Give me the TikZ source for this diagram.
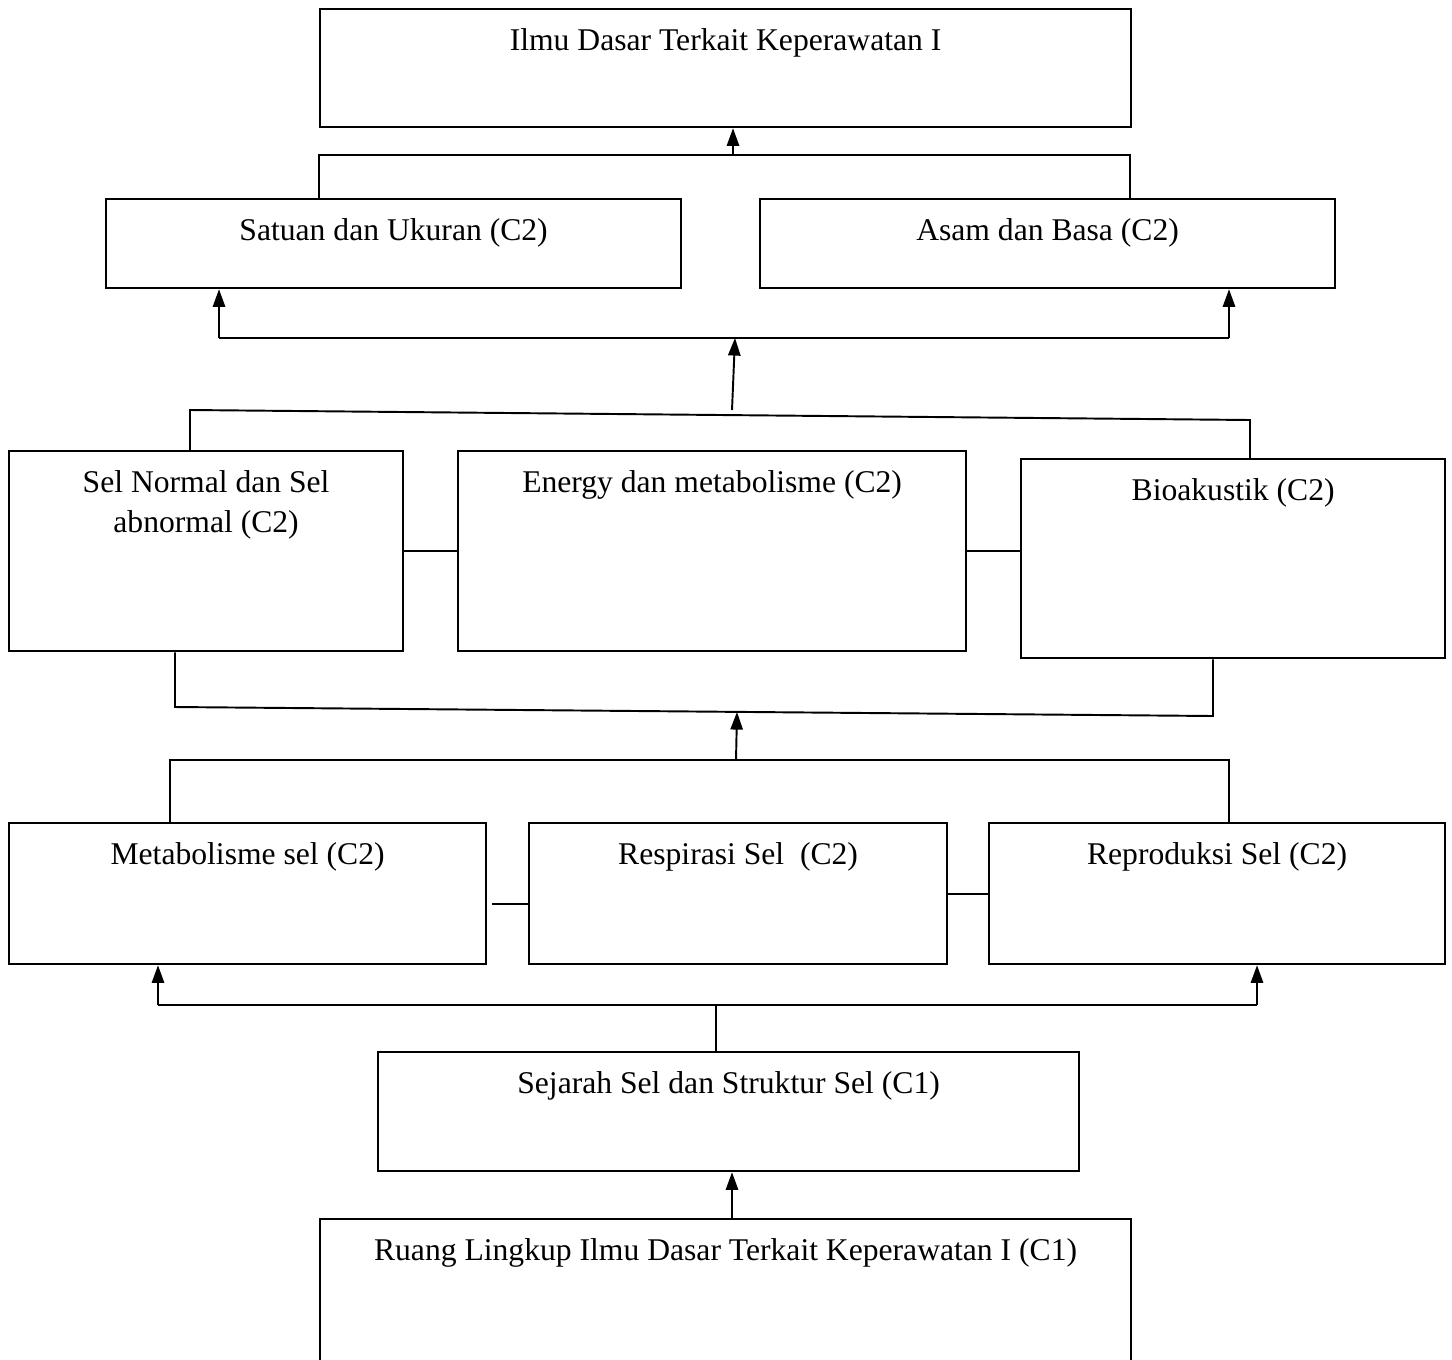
\documentclass[tikz,border=0pt]{standalone}
\usepackage{fontspec}
\setmainfont{Liberation Serif}
\usepackage{tikz}
\usetikzlibrary{arrows.meta}
\usetikzlibrary{calc}
\usetikzlibrary{positioning}

\begin{document}
\begin{tikzpicture}[x=0.02cm, y=-0.02cm]
\tikzstyle{box}=[draw, rectangle, anchor=north west, line width=1.3pt, inner sep=0pt]
\tikzstyle{lbl}=[anchor=north, inner sep=0pt, yshift=-0.40cm, align=center, font=\fontsize{18}{22.7}\selectfont]
\tikzset{arw/.style={-{Triangle[length=10pt, width=7pt]}}}
\useasboundingbox (0,0) rectangle (1452,1359);
% boxes
\node[box, minimum width=16.22cm, minimum height=2.36cm, label={[lbl]north:Ilmu Dasar Terkait Keperawatan I}] (top) at (319,8) {};
\node[box, minimum width=11.5cm, minimum height=1.78cm, label={[lbl]north:Satuan dan Ukuran (C2)}] (satuan) at (105,198) {};
\node[box, minimum width=11.5cm, minimum height=1.78cm, label={[lbl]north:Asam dan Basa (C2)}] (asam) at (759,198) {};
\node[box, minimum width=7.88cm, minimum height=4cm, label={[lbl]north:Sel Normal dan Sel\\abnormal (C2)}] (selnormal) at (8,450) {};
\node[box, minimum width=10.16cm, minimum height=4cm, label={[lbl]north:Energy dan metabolisme (C2)}] (energy) at (457,450) {};
\node[box, minimum width=8.48cm, minimum height=3.98cm, label={[lbl]north:Bioakustik (C2)}] (bio) at (1020,458) {};
\node[box, minimum width=9.54cm, minimum height=2.82cm, label={[lbl]north:Metabolisme sel (C2)}] (metab) at (8,822) {};
\node[box, minimum width=8.36cm, minimum height=2.82cm, label={[lbl]north:Respirasi Sel~~(C2)}] (resp) at (528,822) {};
\node[box, minimum width=9.12cm, minimum height=2.82cm, label={[lbl]north:Reproduksi Sel (C2)}] (repro) at (988,822) {};
\node[box, minimum width=14.02cm, minimum height=2.38cm, label={[lbl]north:Sejarah Sel dan Struktur Sel (C1)}] (sejarah) at (377,1051) {};
\node[box, minimum width=16.22cm, minimum height=3cm, label={[lbl]north:Ruang Lingkup Ilmu Dasar Terkait Keperawatan I (C1)}] (ruang) at (319,1218) {};
% junction points
\coordinate (t0) at (319,155); \coordinate (t1) at (733,155); \coordinate (t2) at (1130,155);
\coordinate (s0) at (219,338); \coordinate (s1) at (735,338); \coordinate (s2) at (1229,338);
\coordinate (n0) at (190,410); \coordinate (m0) at (732,410); \coordinate (n2) at (1250,420);
\coordinate (p0) at (175,707); \coordinate (p1) at (737,712); \coordinate (p2) at (1213,716);
\coordinate (q0) at (170,760); \coordinate (q1) at (736,760); \coordinate (q2) at (1229,760);
\coordinate (r0) at (158,1005); \coordinate (r1) at (716,1005); \coordinate (r2) at (1257,1005);
\coordinate (u0) at (732,1218); \coordinate (v0) at (492,904);
\begin{scope}[line width=1.1pt]
\draw (t0 |- satuan.north) -- (t0) -- (t2) -- (t2 |- asam.north);
\draw[arw] (t1) -- (t1 |- top.south);
\draw (s0) -- (s2);
\foreach \i/\j in {s0/satuan, s2/asam}{
\draw[arw] (\i) -- (\i |- \j.south);}
\draw[arw] (m0) -- (s1);
\draw (n0 |- selnormal.north) -- (n0) -- (n2) -- (n2 |- bio.north);
\draw (selnormal.east) -- (energy.west);
\draw (energy.east) -- (energy.east -| bio.west);
\draw (p0 |- selnormal.south) -- (p0) -- (p2) -- (p2 |- bio.south);
\draw[arw] (q1) -- (p1);
\draw (q0 |- metab.north) -- (q0) -- (q2) -- (q2 |- repro.north);
\draw (v0) -- (v0 -| resp.west);
\draw (resp.east) -- (repro.west);
\draw (r0) -- (r2);
\foreach \i/\j in {r0/metab, r2/repro}{
\draw[arw] (\i) -- (\i |- \j.south);}
\draw (r1) -- (r1 |- sejarah.north);
\draw[arw] (u0) -- (u0 |- sejarah.south);
\end{scope}
\end{tikzpicture}
\end{document}
